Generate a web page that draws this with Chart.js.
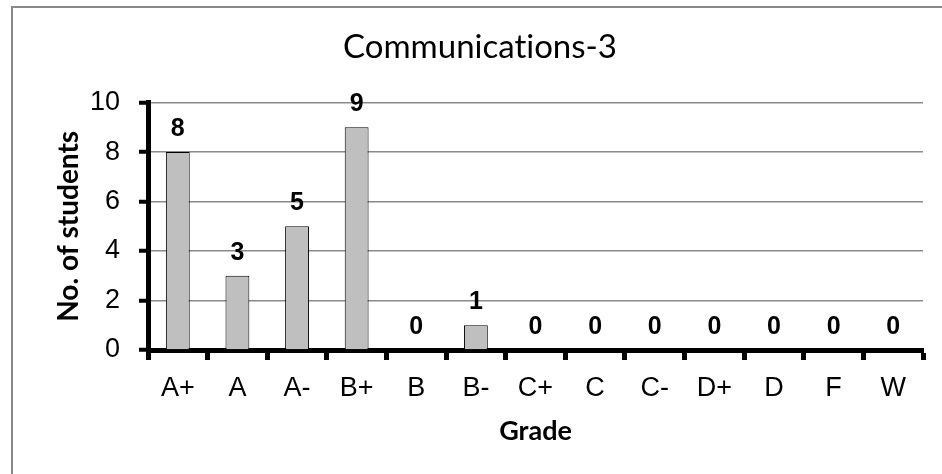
<!DOCTYPE html>
<html>
<head>
<meta charset="utf-8">
<script src="https://cdn.jsdelivr.net/npm/chart.js@4.4.1/dist/chart.umd.min.js"></script>
<style>
  html, body { margin: 0; padding: 0; background: #ffffff; overflow: hidden; width: 942px; height: 474px; }
  #frame { position: absolute; left: 11px; top: 6px; width: 960px; height: 500px; border: 2px solid #888888; box-sizing: border-box; }
  #c { position: absolute; left: 0; top: 0; }
</style>
</head>
<body>
<div id="frame"></div>
<canvas id="c" width="942" height="474"></canvas>
<script>
const chartTitle = "Communications-3";
const xAxisTitle = "Grade";
const yAxisTitle = "No. of students";
const grades = ["A+", "A", "A-", "B+", "B", "B-", "C+", "C", "C-", "D+", "D", "F", "W"];
const students = [8, 3, 5, 9, 0, 1, 0, 0, 0, 0, 0, 0, 0];
const yTicks = [0, 2, 4, 6, 8, 10];

const noLigatures = {
  id: "noLigatures",
  beforeDraw(chart) {
    try { chart.ctx.textRendering = "optimizeSpeed"; } catch (e) {}
  }
};

const valueLabels = {
  id: "valueLabels",
  afterDatasetsDraw(chart) {
    const ctx = chart.ctx;
    const meta = chart.getDatasetMeta(0);
    const data = chart.data.datasets[0].data;
    ctx.save();
    ctx.font = "bold 25px 'Liberation Sans', Arial, sans-serif";
    ctx.fillStyle = "#000000";
    ctx.textAlign = "center";
    ctx.textBaseline = "alphabetic";
    meta.data.forEach((bar, i) => {
      ctx.fillText(String(data[i]), bar.x, bar.y - 16);
    });
    ctx.restore();
  }
};

new Chart(document.getElementById("c"), {
  type: "bar",
  data: {
    labels: grades,
    datasets: [{
      data: students,
      backgroundColor: "#bfbfbf",
      borderColor: "#000000",
      borderWidth: 1,
      barPercentage: 0.4,
      categoryPercentage: 1.0
    }]
  },
  options: {
    responsive: false,
    animation: false,
    devicePixelRatio: 1,
    layout: { padding: { left: 37, right: 19, top: 0, bottom: 0 } },
    plugins: {
      legend: { display: false },
      tooltip: { enabled: false },
      title: {
        display: true,
        text: chartTitle,
        color: "#000000",
        font: { family: "Lato, 'Open Sans', sans-serif", size: 33, weight: "normal" },
        padding: { top: 28, bottom: 35 }
      }
    },
    scales: {
      x: {
        offset: true,
        afterFit(scale) { scale.height = 124; },
        border: { display: true, color: "#000000", width: 5 },
        grid: {
          display: true,
          offset: true,
          drawOnChartArea: false,
          drawTicks: true,
          tickLength: 10,
          tickColor: "#000000",
          tickWidth: 5
        },
        ticks: {
          color: "#000000",
          font: { family: "'Liberation Sans', Arial, sans-serif", size: 27 },
          padding: 12,
          maxRotation: 0,
          autoSkip: false
        },
        title: {
          display: true,
          text: xAxisTitle,
          color: "#000000",
          font: { family: "Lato, 'Open Sans', sans-serif", size: 27, weight: "bold" },
          padding: { top: 0, bottom: 27 }
        }
      },
      y: {
        min: 0,
        max: 10,
        afterFit(scale) { scale.width = 111; },
        afterBuildTicks(scale) { scale.ticks = yTicks.map(v => ({ value: v })); },
        border: { display: true, color: "#000000", width: 5 },
        grid: {
          color: "#8a8a8a",
          lineWidth: 1.5,
          drawTicks: true,
          tickLength: 9,
          tickColor: "#000000",
          tickWidth: 4
        },
        ticks: {
          color: "#000000",
          font: { family: "'Liberation Sans', Arial, sans-serif", size: 27 },
          padding: 19
        },
        title: {
          display: true,
          text: yAxisTitle,
          color: "#000000",
          font: { family: "Lato, 'Open Sans', sans-serif", size: 28, weight: "bold" },
          padding: { top: 15, bottom: 0 }
        }
      }
    }
  },
  plugins: [noLigatures, valueLabels]
});
</script>
</body>
</html>
